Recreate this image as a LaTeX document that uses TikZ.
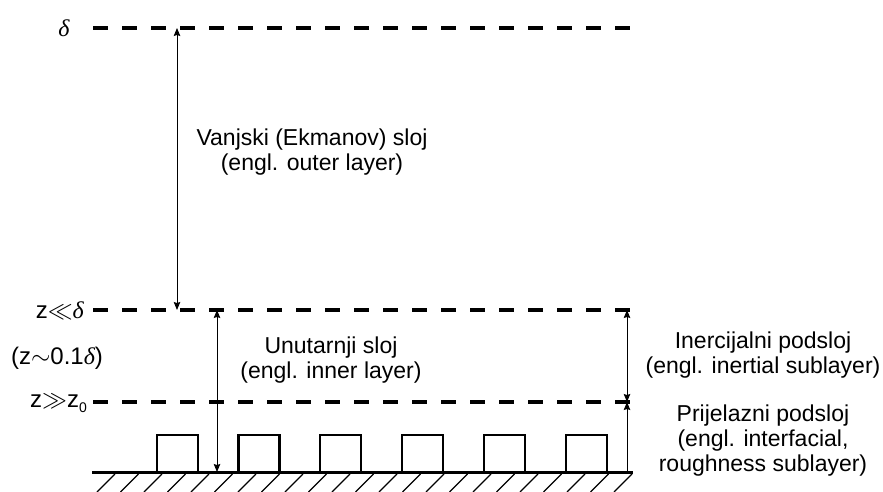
\documentclass[tikz,border=0pt]{standalone}
\usepackage{fontspec}
\setmainfont{Liberation Sans}
\newfontfamily\serifgr{Liberation Serif}
\usetikzlibrary{arrows.meta}
\tikzset{
  level/.style={line width=3.5pt, dash pattern=on 15pt off 14pt},
  ground/.style={line width=3pt},
  rough/.style={line width=2.8pt},
  hatch/.style={line width=1.1pt},
  dim/.style={line width=1pt},
  ah/.tip={Stealth[length=8pt,width=6.5pt,inset=1pt]},
  tip/.style={-ah},
  dtip/.style={ah-ah},
  lbl/.style={font=\fontsize{23}{25}\selectfont, align=center, inner sep=0pt},
  sym/.style={font=\fontsize{24}{26}\selectfont, inner sep=0pt}
}
\begin{document}
\begin{tikzpicture}[x=1pt,y=-1pt]
\useasboundingbox (0,0) rectangle (883,492);
% levels
\coordinate (d0) at (93,28);  \coordinate (d1) at (631,28);
\coordinate (m0) at (93,310); \coordinate (m1) at (631,310);
\coordinate (b0) at (93,402); \coordinate (b1) at (631,402);
\coordinate (g0) at (92,472); \coordinate (g1) at (633,472);
\draw[level] (d0) -- (d1);
\draw[level] (m0) -- (m1);
\draw[level] (b0) -- (b1);
\draw[ground] (g0) -- (g1);
% hatching
\foreach \i in {0,...,22}{
  \draw[hatch] ({115+23.5*\i},474) -- ({97+23.5*\i},492);
}
% roughness elements
\foreach \x in {157,238.5,320,402,484,566}{
  \draw[rough] (\x,472) -- (\x,435) -- (\x+41,435) -- (\x+41,472);
}
% arrows
\coordinate (a1t) at (177,28);  \coordinate (a1b) at (177,310);
\coordinate (a2t) at (217,310); \coordinate (a2b) at (217,472);
\coordinate (a3t) at (627,310); \coordinate (a3m) at (627,402); \coordinate (a3b) at (627,472);
\draw[dim,dtip] (a1t) -- (a1b);
\draw[dim,dtip] (a2t) -- (a2b);
\draw[dim,dtip] (a3t) -- (a3m);
\draw[dim,tip] (a3b) -- (a3m);
% labels
\node[lbl] (outer) at (312,152) {Vanjski (Ekmanov) sloj\\(engl. outer layer)};
\node[lbl] (inner) at (331,360) {Unutarnji sloj\\(engl. inner layer)};
\node[lbl] (inert) at (763,355) {Inercijalni podsloj\\(engl. inertial sublayer)};
\node[lbl] (trans) at (763,441) {Prijelazni podsloj\\(engl. interfacial,\\roughness sublayer)};
\node[sym] (delta) at (64,28) {\serifgr\itshape δ};
\node[sym,anchor=east] (zll) at (84,311) {z$\ll$\serifgr\itshape δ};
\node[sym] (zsim) at (57,358) {(z$\sim$0.1{\serifgr\itshape δ})};
\node[sym,anchor=east] (zgg) at (87,403) {z$\gg$z\raisebox{-5pt}{\fontsize{14}{14}\selectfont 0}};
\end{tikzpicture}
\end{document}
